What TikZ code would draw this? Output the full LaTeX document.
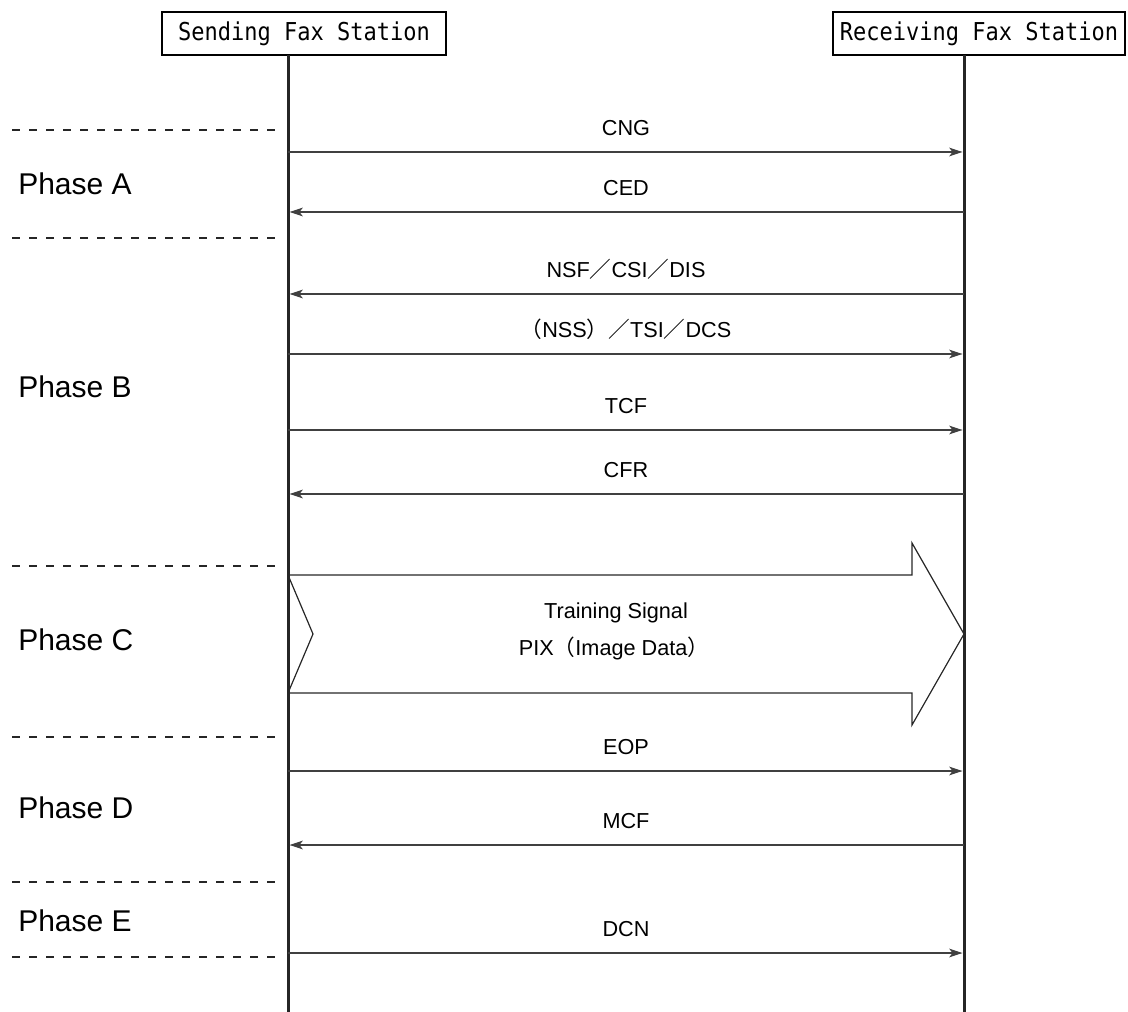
\documentclass[tikz,border=0pt]{standalone}
\usepackage{fontspec}
\setmainfont{Liberation Sans}
\newfontfamily\monof{DejaVu Sans Mono}
\newfontfamily\cjkf{Noto Sans CJK JP}
\usetikzlibrary{arrows.meta}
\newcommand{\fw}[1]{{\cjkf #1}}
\begin{document}
\begin{tikzpicture}[x=0.75pt,y=-0.75pt,
 station/.style={draw,line width=1.5pt,minimum height=32.25pt,inner sep=0pt,font=\monof\fontsize{16.5}{18}\selectfont},
 life/.style={line width=2.25pt, black!85},
 msg/.style={line width=0.9pt, black!75, -{Stealth[length=10pt,width=6.5pt,inset=2.5pt]}, shorten >=1.1pt},
 lbl/.style={anchor=base, text=black, font=\fontsize{16.25}{18}\selectfont, inner sep=0pt, yshift=12.5pt},
 phase/.style={anchor=west, inner sep=0pt, font=\fontsize{22.5}{26}\selectfont},
 sepline/.style={line width=1.1pt, dash pattern=on 6pt off 6.75pt, black!85},
 bigarrow/.style={line width=0.9pt, black!85, line join=miter},
 bigtext/.style={anchor=base, inner sep=0pt, font=\fontsize{16.25}{18}\selectfont}]
\useasboundingbox (0,0) rectangle (1128,1012);

% stations
\node[station, minimum width=213pt] (snd) at (304,33.5) {\scalebox{1}[1.12]{Sending Fax Station}};
\node[station, minimum width=219pt] (rcv) at (979,33.5) {\scalebox{1}[1.12]{Receiving Fax Station}};

% phase separators
\foreach \yy [count=\i] in {130,238,566,737,882,957}{
  \coordinate (dl\i) at (12,\yy);
  \coordinate (dr\i) at (275,\yy);
  \draw[sepline] (dl\i) -- (dr\i);
}

% phase labels
\node[phase] (pA) at (18,184) {Phase A};
\node[phase] (pB) at (18,387) {Phase B};
\node[phase] (pC) at (18,640) {Phase C};
\node[phase] (pD) at (18,808) {Phase D};
\node[phase] (pE) at (18,921) {Phase E};

% big arrow (Phase C)
\draw[bigarrow] (288,575) -- (912,575) -- (912,543) -- (964,634) -- (912,725) -- (912,693) -- (288,693) -- (313,634) -- cycle;
\node[bigtext] (ts) at (616,618) {Training Signal};
\node[bigtext] (pix) at (614,655) {PIX\fw{（}Image Data\fw{）}};

% lifelines
\coordinate (sTop) at (288,55);
\coordinate (sBot) at (288,1012);
\coordinate (rTop) at (964,55);
\coordinate (rBot) at (964,1012);
\draw[life] (sTop) -- (sBot);
\draw[life] (rTop) -- (rBot);

% message end points
\foreach \yy [count=\i] in {152,212,294,354,430,494,771,845,953}{
  \coordinate (s\i) at (288,\yy);
  \coordinate (r\i) at (964,\yy);
}

\draw[msg] (s1) -- node[lbl] {CNG} (r1);
\draw[msg] (r2) -- node[lbl] {CED} (s2);
\draw[msg] (r3) -- node[lbl] {NSF\fw{／}CSI\fw{／}DIS} (s3);
\draw[msg] (s4) -- node[lbl] {\fw{（}NSS\fw{）}\fw{／}TSI\fw{／}DCS} (r4);
\draw[msg] (s5) -- node[lbl] {TCF} (r5);
\draw[msg] (r6) -- node[lbl] {CFR} (s6);
\draw[msg] (s7) -- node[lbl] {EOP} (r7);
\draw[msg] (r8) -- node[lbl] {MCF} (s8);
\draw[msg] (s9) -- node[lbl] {DCN} (r9);
\end{tikzpicture}
\end{document}
